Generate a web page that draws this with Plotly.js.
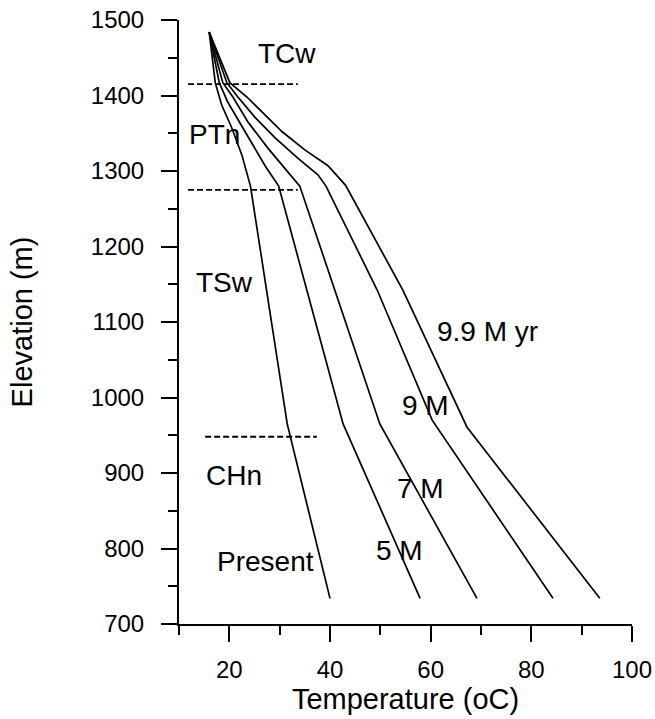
<!DOCTYPE html>
<html>
<head>
<meta charset="utf-8">
<script src="https://cdn.plot.ly/plotly-3.0.1.min.js"></script>
<style>html,body{margin:0;padding:0;background:#fff;}#chart{width:655px;height:719px;}</style>
</head>
<body>
<div id="chart"></div>
<script>
// Temperature profiles (oC) versus elevation (m)
const elevPresent = [1484, 1417, 1387, 1357, 1321, 1280, 965, 734];
const tempPresent = [16.0, 17.2, 18.5, 20.5, 22.5, 24.2, 31.5, 40.0];

const elev5M = [1484, 1417, 1391, 1352, 1307, 1280, 965, 734];
const temp5M = [16.0, 18.0, 19.7, 23.1, 27.1, 29.8, 42.6, 57.9];

const elev7M = [1484, 1417, 1398, 1365, 1330, 1299, 1280, 965, 734];
const temp7M = [16.0, 18.7, 20.7, 23.7, 27.7, 31.7, 34.0, 49.9, 69.2];

const elev9M = [1484, 1417, 1398, 1371, 1344, 1317, 1295, 1280, 1142, 970, 734];
const temp9M = [16.0, 19.5, 21.7, 25.1, 29.1, 33.6, 37.6, 39.2, 49.4, 60.3, 84.3];

const elev99M = [1484, 1417, 1398, 1378, 1352, 1328, 1307, 1281, 1142, 961, 734];
const temp99M = [16.0, 20.1, 23.5, 26.5, 30.5, 35.0, 39.6, 43.1, 54.5, 67.2, 93.6];

const curveLabels = ["Present", "5 M", "7 M", "9 M", "9.9 M yr"];

// Hydrogeologic unit boundaries (dashed lines)
const boundaryElev = [1415, 1275, 948];
const boundaryTempStart = [11.8, 11.8, 15.2];
const boundaryTempEnd = [33.6, 33.6, 37.4];
const unitNames = ["TCw", "PTn", "TSw", "CHn"];

const xTickVals = [20, 40, 60, 80, 100];
const yTickVals = [700, 800, 900, 1000, 1100, 1200, 1300, 1400, 1500];

const FONT = "Liberation Sans, Arial, Helvetica, sans-serif";
const lineStyle = {color: "#000", width: 1.7};

const curves = [
  [tempPresent, elevPresent],
  [temp5M, elev5M],
  [temp7M, elev7M],
  [temp9M, elev9M],
  [temp99M, elev99M]
];

const traces = curves.map((c, i) => ({
  type: "scatter", mode: "lines", x: c[0], y: c[1],
  name: curveLabels[i], line: lineStyle, hoverinfo: "x+y+name"
}));

boundaryElev.forEach((e, i) => {
  traces.push({
    type: "scatter", mode: "lines",
    x: [boundaryTempStart[i], boundaryTempEnd[i]], y: [e, e],
    line: {color: "#000", width: 1.8, dash: "6px,3px"},
    hoverinfo: "skip", showlegend: false
  });
});

// label anchor positions (data coordinates)
const unitLabelPos = [[31.5, 1456], [17.0, 1348], [19.0, 1152], [20.9, 897]];
const curveLabelPos = [[27.1, 783], [53.9, 798], [57.9, 880], [58.9, 989], [71.2, 1087]];

const annotations = [];
unitNames.forEach((t, i) => annotations.push({
  x: unitLabelPos[i][0], y: unitLabelPos[i][1], xref: "x", yref: "y",
  text: t, showarrow: false, font: {family: FONT, size: 28, color: "#000"}
}));
curveLabels.forEach((t, i) => annotations.push({
  x: curveLabelPos[i][0], y: curveLabelPos[i][1], xref: "x", yref: "y",
  text: t, showarrow: false, font: {family: FONT, size: 28, color: "#000"}
}));

const layout = {
  width: 655, height: 719,
  margin: {l: 179, r: 23, t: 20, b: 95},
  paper_bgcolor: "#fff", plot_bgcolor: "#fff",
  showlegend: false,
  font: {family: FONT, color: "#000"},
  xaxis: {
    range: [10, 100], tickvals: xTickVals, ticktext: xTickVals.map(String),
    ticks: "outside", ticklen: 16, tickwidth: 2, tickcolor: "#000",
    ticklabelstandoff: 7,
    showline: true, linecolor: "#000", linewidth: 2,
    showgrid: false, zeroline: false,
    tickfont: {family: FONT, size: 24, color: "#000"},
    minor: {dtick: 10, tick0: 10, ticks: "outside", ticklen: 9, tickwidth: 2, tickcolor: "#000", showgrid: false},
    title: {text: "Temperature (oC)", font: {family: FONT, size: 29, color: "#000"}, standoff: 0}
  },
  yaxis: {
    range: [700, 1500], tickvals: yTickVals, ticktext: yTickVals.map(String),
    ticks: "outside", ticklen: 16, tickwidth: 2, tickcolor: "#000",
    ticklabelstandoff: 12,
    showline: true, linecolor: "#000", linewidth: 2,
    showgrid: false, zeroline: false,
    tickfont: {family: FONT, size: 24, color: "#000"},
    minor: {dtick: 50, tick0: 0, ticks: "outside", ticklen: 9, tickwidth: 2, tickcolor: "#000", showgrid: false},
    title: {text: "Elevation (m)", font: {family: FONT, size: 29, color: "#000"}, standoff: 50}
  },
  annotations: annotations
};

Plotly.newPlot("chart", traces, layout, {staticPlot: true, displayModeBar: false});
</script>
</body>
</html>
